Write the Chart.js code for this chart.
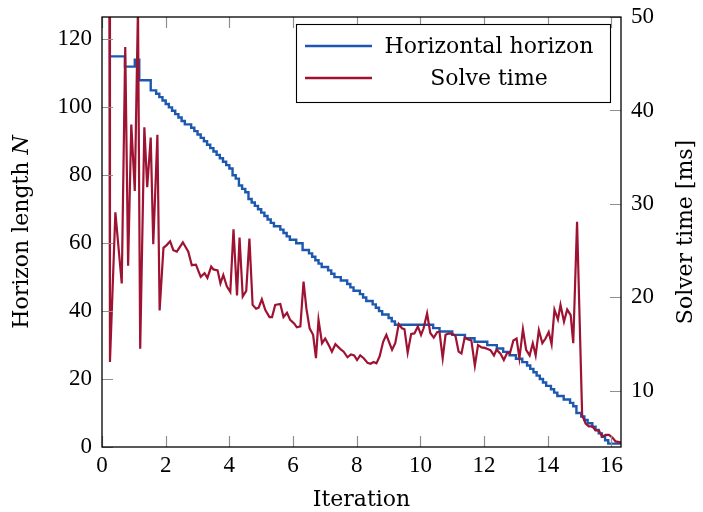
<!DOCTYPE html>
<html><head><meta charset="utf-8">
<script src="https://cdn.jsdelivr.net/npm/chart.js@4"></script>
<style>html,body{margin:0;padding:0;background:#fff;overflow:hidden}canvas{display:block}</style>
</head><body>
<canvas id="c" width="703" height="512"></canvas>
<script>
// ---- data ----
const horizonX = [0.28,0.72,1.03,1.17,1.53,
  1.7,1.8,1.9,2.0,2.1,2.2,2.3,2.4,2.5,2.6,
  2.8,2.9,3.0,3.1,3.2,3.3,3.4,3.5,3.6,3.7,
  3.8,3.9,4.0,4.1,4.2,4.3,4.4,4.5,4.6,4.7,
  4.8,4.9,5.0,5.1,5.2,5.3,5.4,5.6,5.7,5.8,
  5.9,6.1,6.3,6.5,6.6,6.7,6.8,6.9,7.1,7.2,
  7.3,7.5,7.7,7.8,7.9,8.1,8.2,8.3,8.5,8.6,
  8.7,8.8,9.0,9.1,9.2,
  10.4,10.6,11.0,11.4,11.7,12.1,12.4,12.6,12.8,13.0,
  13.2,13.35,13.45,13.55,13.65,13.75,13.85,13.95,14.1,14.2,
  14.3,14.5,14.7,14.8,14.9,15.05,15.15,15.25,15.4,15.5,
  15.6,15.7,15.8,15.9,16.3];
const horizonN = [115,112,114,108,105,
  104,103,102,101,100,99,98,97,96,95,
  94,93,92,91,90,89,88,87,86,85,
  84,83,82,80,79,77,76,75,73,72,
  71,70,69,68,67,66,65,64,63,62,
  61,60,58,57,56,55,54,53,52,51,
  50,49,48,47,46,45,44,43,42,41,
  40,39,38,37,36,
  35,34,33,32,31,30,29,28,27,26,
  25,24,23,22,21,20,19,18,17,16,
  15,14,13,12,10,9,8,7,6,5,
  4,3,2,1,1];
const solveX = [0.23,0.25,0.42,0.62,0.73,0.82,0.92,1.03,1.13,1.20,
  1.33,1.42,1.53,1.61,1.74,1.81,1.93,2.03,2.14,2.24,
  2.35,2.54,2.71,2.82,2.95,3.10,3.22,3.31,3.43,3.50,
  3.63,3.72,3.81,3.92,4.03,4.13,4.24,4.32,4.42,4.53,
  4.63,4.73,4.84,4.92,5.02,5.13,5.26,5.34,5.44,5.60,
  5.70,5.81,5.91,6.04,6.12,6.23,6.33,6.42,6.52,6.63,
  6.72,6.80,6.91,7.01,7.12,7.22,7.33,7.48,7.59,7.71,
  7.82,7.92,8.01,8.11,8.22,8.34,8.43,8.53,8.62,8.72,
  8.83,8.93,9.03,9.11,9.21,9.32,9.42,9.50,9.60,9.71,
  9.81,9.92,10.02,10.10,10.21,10.31,10.42,10.53,10.60,10.70,
  10.79,10.89,11.00,11.10,11.20,11.29,11.39,11.50,11.60,11.71,
  11.81,11.92,12.02,12.13,12.20,12.31,12.39,12.52,12.62,12.73,
  12.81,12.92,13.02,13.11,13.22,13.32,13.43,13.53,13.62,13.72,
  13.83,13.93,14.03,14.12,14.21,14.32,14.40,14.51,14.61,14.72,
  14.80,14.92,15.08,15.19,15.29,15.40,15.50,15.61,15.71,15.82,
  15.92,16.03,16.13,16.29];
const solveMs = [55,13.1,29.1,21.5,46.8,23.4,38.5,31.4,51,14.5,
  38.2,31.8,37.1,25.7,37.4,18.6,25.3,25.6,26.0,25.05,
  24.9,25.9,24.9,23.45,23.5,22.2,22.6,22.1,23.3,23.0,
  22.9,21.5,22.4,21.2,20.6,27.3,20.2,26.4,20.1,20.7,
  26.3,19.2,18.8,18.9,19.8,18.65,17.9,17.9,19.2,19.3,
  17.9,18.35,17.6,17.2,16.8,16.9,21.7,18.8,16.7,16.0,
  13.5,17.6,15.1,15.6,14.9,14.2,15.0,14.5,14.2,13.6,
  13.9,13.8,13.3,13.8,13.5,13.0,12.9,13.1,12.95,13.7,
  15.25,16.0,15.1,14.4,15.1,17.15,16.7,16.6,14.1,16.1,
  16.15,16.9,16.0,16.7,18.3,16.2,15.7,16.3,16.3,13.5,
  16.0,16.15,16.1,15.9,14.2,14.0,15.7,15.5,15.4,12.7,
  14.9,14.65,14.6,14.45,14.35,13.8,14.4,13.95,13.3,14.1,
  14.0,15.4,15.6,13.5,16.6,14.4,13.8,15.1,13.8,16.5,
  15.1,15.6,16.3,15.0,18.7,17.65,19.2,17.4,18.7,18.1,
  15.1,28.1,7.4,6.5,6.2,6.2,5.8,5.75,5.1,5.3,
  5.3,5.0,4.6,4.5];
const xTickValues = [0,2,4,6,8,10,12,14,16];
const leftTickValues = [0,20,40,60,80,100,120];
const rightTickValues = [10,20,30,40,50];
const seriesNames = ['Horizontal horizon','Solve time'];
const xTitle = 'Iteration';
const leftTitle = 'Horizon length ';
const leftTitleSymbol = 'N';
const rightTitle = 'Solver time [ms]';

// ---- styling ----
const BLUE = '#1d58b0';
const RED = '#9e1232';
const TICK_FONT = {family:'Liberation Serif', size:23};
const TEXT_FAMILY = 'DejaVu Serif';
const TEXT_SIZE = 22;

function pairs(xs, ys){ return xs.map((x,i)=>({x:x, y:ys[i]})); }
function noPad(s){ s.paddingTop = 0; s.paddingBottom = 0; s.paddingLeft = 0; s.paddingRight = 0; }

const deco = {
  id:'deco',
  afterDatasetsDraw(chart){
    const ctx = chart.ctx, a = chart.chartArea;
    const sx = chart.scales.x, sy = chart.scales.y, sy2 = chart.scales.y2;
    ctx.save();
    // inner tick marks
    ctx.strokeStyle = '#8f8f8f'; ctx.lineWidth = 1.2;
    const TL = 11;
    ctx.beginPath();
    sx.ticks.forEach(t=>{ const p = Math.round(sx.getPixelForValue(t.value))+0.5;
      ctx.moveTo(p,a.bottom); ctx.lineTo(p,a.bottom-TL);
      ctx.moveTo(p,a.top); ctx.lineTo(p,a.top+TL); });
    sy.ticks.forEach(t=>{ const p = Math.round(sy.getPixelForValue(t.value))+0.5;
      ctx.moveTo(a.left,p); ctx.lineTo(a.left+TL,p); });
    sy2.ticks.forEach(t=>{ const p = Math.round(sy2.getPixelForValue(t.value))+0.5;
      ctx.moveTo(a.right,p); ctx.lineTo(a.right-TL,p); });
    ctx.stroke();
    // frame
    ctx.strokeStyle = '#000'; ctx.lineWidth = 1.3;
    ctx.strokeRect(a.left, a.top, a.right-a.left, a.bottom-a.top);
    // legend
    const bw = 314, bh = 78;
    const bx = a.right - 11 - bw, by = a.top + 7;
    ctx.fillStyle = '#fff'; ctx.fillRect(bx,by,bw,bh);
    ctx.strokeStyle = '#000'; ctx.lineWidth = 1.1;
    ctx.strokeRect(bx+0.5,by+0.5,bw,bh);
    const cols = [BLUE, RED];
    ctx.font = TEXT_SIZE+'px "'+TEXT_FAMILY+'"';
    ctx.textAlign = 'center'; ctx.textBaseline = 'middle';
    seriesNames.forEach((name,i)=>{
      const ly = by + 22 + i*32;
      ctx.strokeStyle = cols[i]; ctx.lineWidth = 2.3;
      ctx.beginPath(); ctx.moveTo(bx+9,ly); ctx.lineTo(bx+76,ly); ctx.stroke();
      ctx.fillStyle = '#000';
      ctx.fillText(name, bx+193, ly+1);
    });
    // axis titles
    ctx.fillStyle = '#000';
    ctx.textAlign = 'center'; ctx.textBaseline = 'middle';
    ctx.fillText(xTitle, (a.left+a.right)/2, 500);
    const cy = (a.top+a.bottom)/2;
    // left title (rotated, italic symbol)
    ctx.save();
    ctx.translate(22, cy); ctx.rotate(-Math.PI/2);
    const fN = TEXT_SIZE+'px "'+TEXT_FAMILY+'"', fI = 'italic '+TEXT_SIZE+'px "'+TEXT_FAMILY+'"';
    ctx.font = fN; const w1 = ctx.measureText(leftTitle).width;
    ctx.font = fI; const w2 = ctx.measureText(leftTitleSymbol).width;
    ctx.textAlign = 'left';
    ctx.font = fN; ctx.fillText(leftTitle, -(w1+w2)/2, 0);
    ctx.font = fI; ctx.fillText(leftTitleSymbol, -(w1+w2)/2 + w1, 0);
    ctx.restore();
    // right title
    ctx.save();
    ctx.translate(686, cy); ctx.rotate(-Math.PI/2);
    ctx.font = fN; ctx.textAlign = 'center';
    ctx.fillText(rightTitle, 0, 0);
    ctx.restore();
    ctx.restore();
  }
};

new Chart(document.getElementById('c'), {
  type:'line',
  data:{ datasets:[
    { label: seriesNames[0], data: pairs(horizonX, horizonN), yAxisID:'y',
      borderColor: BLUE, borderWidth: 2.4, stepped: 'before', pointRadius:0, fill:false, order:1, tension:0 },
    { label: seriesNames[1], data: pairs(solveX, solveMs), yAxisID:'y2',
      borderColor: RED, borderWidth: 2.2, pointRadius:0, fill:false, order:0, tension:0 }
  ]},
  options:{
    responsive:false, animation:false, devicePixelRatio:1,
    layout:{ padding:{ top:17, left:0, right:0, bottom:0 } },
    plugins:{ legend:{display:false}, tooltip:{enabled:false}, title:{display:false} },
    scales:{
      x:{ type:'linear', min:0, max:16.3, position:'bottom',
          grid:{display:false, drawTicks:false}, border:{display:false},
          afterBuildTicks: s => { s.ticks = xTickValues.map(v=>({value:v})); },
          afterFit: s => { s.height = 65; noPad(s); },
          ticks:{ font:TICK_FONT, color:'#000', padding:5, maxRotation:0, autoSkip:false } },
      y:{ type:'linear', min:0, max:126.6, position:'left',
          grid:{display:false, drawTicks:false}, border:{display:false},
          afterBuildTicks: s => { s.ticks = leftTickValues.map(v=>({value:v})); },
          afterFit: s => { s.width = 102; noPad(s); },
          ticks:{ font:TICK_FONT, color:'#000', padding:10, autoSkip:false } },
      y2:{ type:'linear', min:4.0, max:50, position:'right',
          grid:{display:false, drawTicks:false}, border:{display:false},
          afterBuildTicks: s => { s.ticks = rightTickValues.map(v=>({value:v})); },
          afterFit: s => { s.width = 82; noPad(s); },
          ticks:{ font:TICK_FONT, color:'#000', padding:10, autoSkip:false } }
    }
  },
  plugins:[deco]
});
</script>
</body></html>
